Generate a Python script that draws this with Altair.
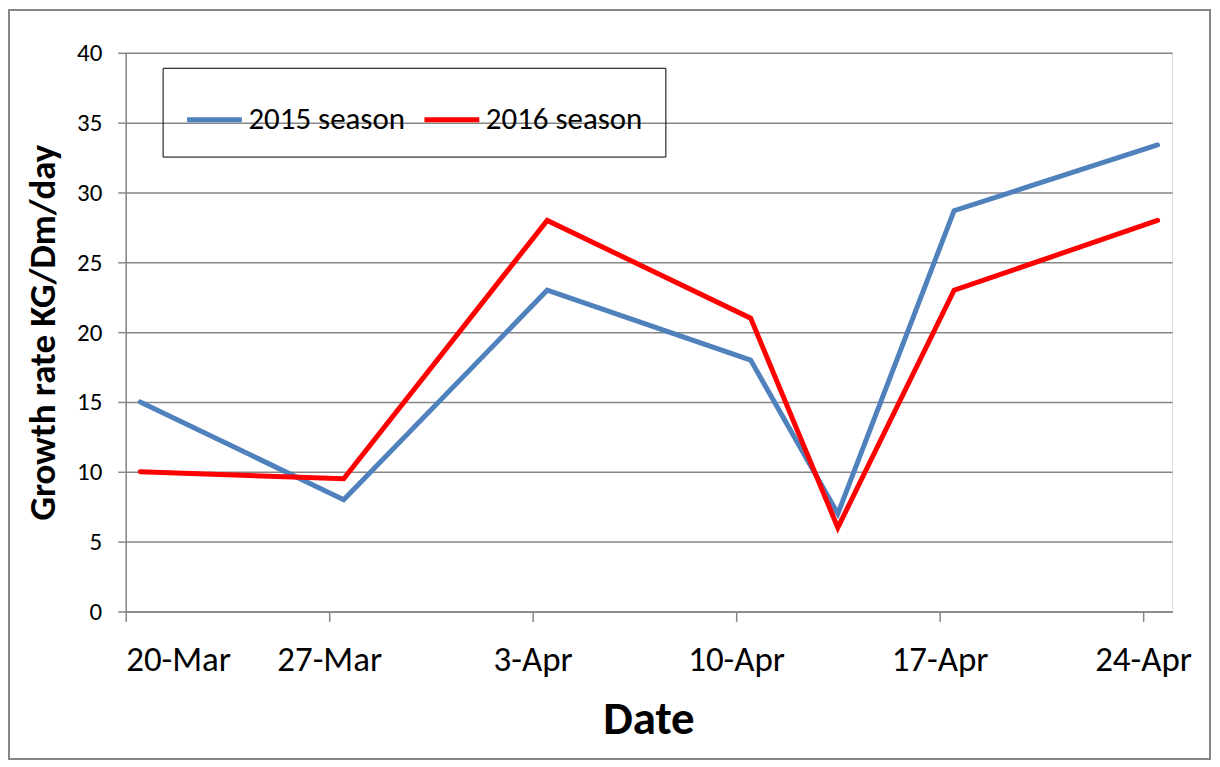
import altair as alt
import pandas as pd

# ---- data ----
dates = ["2016-03-20", "2016-03-27", "2016-04-03", "2016-04-10",
         "2016-04-13", "2016-04-17", "2016-04-24"]
season_2015 = [15, 8, 23, 18, 7, 28.7, 33.4]
season_2016 = [10, 9.5, 28, 21, 6, 23, 28]
series_names = ["2015 season", "2016 season"]
series_colors = ["#4F81BD", "#FF0000"]
y_ticks = [0, 5, 10, 15, 20, 25, 30, 35, 40]
x_tick_dates = [(3, 20), (3, 27), (4, 3), (4, 10), (4, 17), (4, 24)]

rows = []
for name, vals in zip(series_names, [season_2015, season_2016]):
    for d, v in zip(dates, vals):
        rows.append({"date": d, "season": name, "value": v})
df = pd.DataFrame(rows)

FONT = "Carlito, Lato, sans-serif"
GRID = "#868686"

x_enc = alt.X(
    "t:T",
    scale=alt.Scale(
        type="utc",
        domain=[alt.DateTime(year=2016, month=3, date=20, utc=True),
                alt.DateTime(year=2016, month=4, date=25, utc=True)],
    ),
    axis=alt.Axis(
        values=[alt.DateTime(year=2016, month=m, date=d, utc=True) for m, d in x_tick_dates],
        labelExpr="utcFormat(datum.value, '%-d-%b')",
        title="Date", titleFontSize=47, titleFontWeight="bold", titleFont=FONT,
        titleX=524, titleY=108, titleBaseline="middle", titleAlign="center",
        labelFont=FONT, labelFontSize=35, labelColor="black", labelPadding=21,
        tickSize=10, tickColor=GRID, tickWidth=1.5,
        domainColor=GRID, domainWidth=1.5, grid=False,
    ),
)

y_enc = alt.Y(
    "value:Q",
    scale=alt.Scale(domain=[0, 40], nice=False),
    axis=alt.Axis(
        values=y_ticks,
        title="Growth rate KG/Dm/day", titleFontSize=37, titleFontWeight="bold", titleFont=FONT,
        titleAngle=-90, titleX=-82, titleY=280, titleAlign="center", titleBaseline="middle",
        labelFont=FONT, labelFontSize=25, labelColor="black", labelPadding=16,
        tickSize=8, tickColor=GRID, tickWidth=1.5,
        domainColor=GRID, domainWidth=1.5,
        grid=True, gridColor=GRID, gridWidth=1.5,
    ),
)

lines = alt.Chart(df).mark_line(strokeWidth=5, strokeCap="round", clip=False).transform_calculate(
    t="toDate(datum.date) + 12*60*60*1000"
).encode(
    x=x_enc,
    y=y_enc,
    color=alt.Color(
        "season:N",
        scale=alt.Scale(domain=series_names, range=series_colors),
        legend=alt.Legend(
            title=None, orient="none", legendX=37, legendY=15, direction="horizontal",
            symbolType="stroke", symbolSize=3025, symbolStrokeWidth=5,
            labelFont=FONT, labelFontSize=31, labelColor="black", labelOffset=4,
            columnPadding=8, padding=22, strokeColor="black",
        ),
    ),
    detail="season:N",
)

frame = alt.Chart(df).mark_rect(fill="transparent", stroke=GRID, strokeWidth=2, clip=False).encode(
    x=alt.value(-117), x2=alt.value(1087), y=alt.value(-43), y2=alt.value(708)
)

chart = alt.layer(frame, lines).properties(
    width=1049, height=560,
    autosize=alt.AutoSizeParams(type="none"),
    padding={"left": 118, "top": 44, "right": 40, "bottom": 150},
).configure_view(stroke=None).configure(background="white")

chart.save("out.html", embed_options={"renderer": "svg", "actions": False})
